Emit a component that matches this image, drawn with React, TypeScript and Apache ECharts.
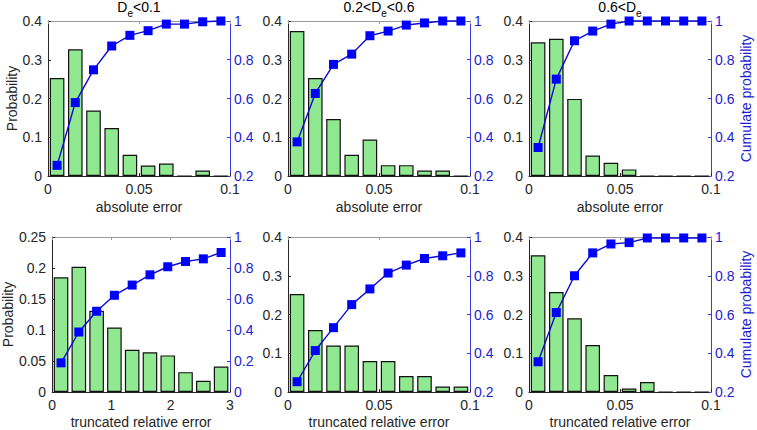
import React, { useEffect, useRef } from "react";
import * as echarts from "echarts";

// bin centres
const binsSmall = [0.005, 0.015, 0.025, 0.035, 0.045, 0.055, 0.065, 0.075, 0.085, 0.095];
const binsRel = [0.15, 0.45, 0.75, 1.05, 1.35, 1.65, 1.95, 2.25, 2.55, 2.85];

// absolute error panels
const absLowProb = [0.253, 0.327, 0.169, 0.124, 0.055, 0.027, 0.032, 0, 0.014, 0];
const absLowCum = [0.255, 0.579, 0.748, 0.871, 0.926, 0.95, 0.984, 0.984, 0.996, 1.0];
const absMidProb = [0.374, 0.253, 0.147, 0.055, 0.094, 0.028, 0.028, 0.014, 0.014, 0];
const absMidCum = [0.376, 0.626, 0.776, 0.829, 0.924, 0.948, 0.979, 0.99, 1.0, 1.0];
const absHighProb = [0.345, 0.354, 0.199, 0.053, 0.034, 0.017, 0, 0, 0, 0];
const absHighCum = [0.347, 0.7, 0.898, 0.948, 0.984, 1.0, 1.0, 1.0, 1.0, 1.0];

// truncated relative error panels
const relLowProb = [0.185, 0.202, 0.131, 0.104, 0.068, 0.064, 0.059, 0.032, 0.018, 0.041];
const relLowCum = [0.188, 0.387, 0.521, 0.624, 0.69, 0.756, 0.808, 0.842, 0.859, 0.9];
const relMidProb = [0.253, 0.16, 0.12, 0.12, 0.08, 0.08, 0.041, 0.041, 0.014, 0.014];
const relMidCum = [0.253, 0.414, 0.532, 0.651, 0.732, 0.814, 0.855, 0.889, 0.903, 0.918];
const relHighProb = [0.353, 0.258, 0.19, 0.121, 0.044, 0.009, 0.026, 0, 0, 0];
const relHighCum = [0.356, 0.61, 0.8, 0.918, 0.964, 0.971, 0.995, 0.995, 0.995, 0.995];

// titles
const titles = [
  "{a|D}{b|e}{a|<0.1}",
  "{a|0.2<D}{b|e}{a|<0.6}",
  "{a|0.6<D}{b|e}",
];

const xNames = ["absolute error", "truncated relative error"];
const leftName = "Probability";
const rightName = "Cumulate probability";

const FONT = "Liberation Sans, Arial, Helvetica, sans-serif";
const TXT = "#262626";
const BLUE = "#1c1cd6";
const FS = 14;

type Panel = {
  bins: number[];
  prob: number[];
  cum: number[];
  xMax: number;
  xInt: number;
  yMax: number;
  yInt: number;
  rMin: number;
};

const panels: Panel[] = [
  { bins: binsSmall, prob: absLowProb, cum: absLowCum, xMax: 0.1, xInt: 0.05, yMax: 0.4, yInt: 0.1, rMin: 0.2 },
  { bins: binsSmall, prob: absMidProb, cum: absMidCum, xMax: 0.1, xInt: 0.05, yMax: 0.4, yInt: 0.1, rMin: 0.2 },
  { bins: binsSmall, prob: absHighProb, cum: absHighCum, xMax: 0.1, xInt: 0.05, yMax: 0.4, yInt: 0.1, rMin: 0.2 },
  { bins: binsRel, prob: relLowProb, cum: relLowCum, xMax: 3, xInt: 1, yMax: 0.25, yInt: 0.05, rMin: 0 },
  { bins: binsSmall, prob: relMidProb, cum: relMidCum, xMax: 0.1, xInt: 0.05, yMax: 0.4, yInt: 0.1, rMin: 0.2 },
  { bins: binsSmall, prob: relHighProb, cum: relHighCum, xMax: 0.1, xInt: 0.05, yMax: 0.4, yInt: 0.1, rMin: 0.2 },
];

const colLefts = [48, 288, 529];
const rowTops = [21, 237];
const GW = 182;
const rowHeights = [155, 156];

export default function App() {
  const ref = useRef<HTMLDivElement>(null);
  useEffect(() => {
    if (!ref.current) return;
    const chart = echarts.init(ref.current, undefined, { renderer: "svg" });
    const grids: any[] = [];
    const xAxes: any[] = [];
    const yAxes: any[] = [];
    const series: any[] = [];
    panels.forEach((p, i) => {
      const row = Math.floor(i / 3);
      const col = i % 3;
      grids.push({ left: colLefts[col], top: rowTops[row], width: GW, height: rowHeights[row], containLabel: false });
      xAxes.push({
        gridIndex: i,
        type: "value",
        min: 0,
        max: p.xMax,
        interval: p.xInt,
        position: "bottom",
        axisLine: { show: true, onZero: false, lineStyle: { color: TXT, width: 1 } },
        axisTick: { show: true, inside: true, length: 3, lineStyle: { color: TXT } },
        axisLabel: { color: TXT, fontSize: FS, fontFamily: FONT, margin: 6 },
        splitLine: { show: false },
        name: xNames[row],
        nameLocation: "middle",
        nameGap: row === 0 ? 24 : 23,
        nameTextStyle: { color: TXT, fontSize: FS, fontFamily: FONT },
      });
      xAxes.push({
        gridIndex: i,
        type: "value",
        min: 0,
        max: p.xMax,
        interval: p.xInt,
        position: "top",
        axisLine: { show: true, onZero: false, lineStyle: { color: "#9a9a9a", width: 1 } },
        axisTick: { show: true, inside: true, length: 3, lineStyle: { color: "#9a9a9a" } },
        axisLabel: { show: false },
        splitLine: { show: false },
      });
      yAxes.push({
        gridIndex: i,
        type: "value",
        position: "left",
        min: 0,
        max: p.yMax,
        interval: p.yInt,
        axisLine: { show: true, onZero: false, lineStyle: { color: TXT, width: 1 } },
        axisTick: { show: true, inside: true, length: 3, lineStyle: { color: TXT } },
        axisLabel: { color: TXT, fontSize: FS, fontFamily: FONT, margin: 6 },
        splitLine: { show: false },
        name: col === 0 ? leftName : "",
        nameLocation: "middle",
        nameRotate: 90,
        nameGap: row === 0 ? 26 : 33,
        nameTextStyle: { color: TXT, fontSize: FS, fontFamily: FONT },
      });
      yAxes.push({
        gridIndex: i,
        type: "value",
        position: "right",
        min: p.rMin,
        max: 1,
        interval: 0.2,
        axisLine: { show: true, onZero: false, lineStyle: { color: "#3a3ae0", width: 1 } },
        axisTick: { show: true, inside: true, length: 3, lineStyle: { color: "#3a3ae0" } },
        axisLabel: { color: BLUE, fontSize: FS, fontFamily: FONT, margin: 4 },
        splitLine: { show: false },
        name: col === 2 ? rightName : "",
        nameLocation: "middle",
        nameRotate: 90,
        nameGap: 28,
        nameTextStyle: { color: BLUE, fontSize: FS, fontFamily: FONT },
      });
      series.push({
        type: "bar",
        xAxisIndex: 2 * i,
        yAxisIndex: 2 * i,
        data: p.bins.map((b, k) => [b, p.prob[k]]),
        barWidth: 14.6,
        itemStyle: { color: "#90e890", borderColor: "#111", borderWidth: 1.2 },
        z: 2,
      });
      series.push({
        type: "line",
        xAxisIndex: 2 * i,
        yAxisIndex: 2 * i + 1,
        data: p.bins.map((b, k) => [b, p.cum[k]]),
        symbol: "rect",
        symbolSize: 9,
        clip: false,
        lineStyle: { color: "#0a0ad0", width: 1.4 },
        itemStyle: { color: "#0000ff" },
        z: 5,
      });
    });
    const titleCenters = colLefts.map((l) => l + GW / 2);
    chart.setOption({
      animation: false,
      backgroundColor: "#ffffff",
      textStyle: { fontFamily: FONT },
      title: titles.map((t, k) => ({
        text: t,
        left: titleCenters[k],
        top: 0,
        textAlign: "center",
        padding: 0,
        textStyle: {
          fontWeight: "normal",
          rich: {
            a: { fontSize: FS, fontWeight: "normal", fontFamily: FONT, color: "#000", lineHeight: 16, verticalAlign: "top" },
            b: { fontSize: 10, fontWeight: "normal", fontFamily: FONT, color: "#000", lineHeight: 11, verticalAlign: "top", padding: [8, 0, 0, 0] },
          },
        },
      })),
      grid: grids,
      xAxis: xAxes,
      yAxis: yAxes,
      series,
    });
    return () => chart.dispose();
  }, []);
  return (
    <div
      ref={ref}
      style={{ position: "fixed", left: 0, top: 0, width: 757, height: 430, background: "#fff" }}
    />
  );
}
